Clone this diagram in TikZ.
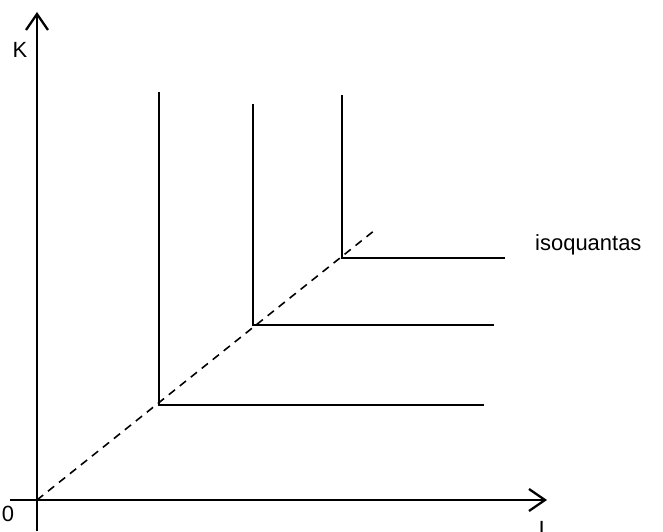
\documentclass[tikz,border=0pt]{standalone}
\usepackage{fontspec}
\setmainfont{Liberation Sans}
\usetikzlibrary{calc, positioning}
\usetikzlibrary{arrows.meta}

\begin{document}
\begin{tikzpicture}[x=1cm,y=1cm,font=\fontsize{12.5}{14}\selectfont]
\tikzset{axis/.style={line width=1.3pt,-{Straight Barb[length=3.2mm,width=4.4mm,line width=1.3pt]}},
  isoq/.style={line width=1.3pt},
  ray/.style={line width=0.9pt,dash pattern=on 4.5pt off 3.5pt}}
\useasboundingbox (-0.74,-0.62) rectangle (12.52,10);
\coordinate (O) at (0,0);
\coordinate (Ybot) at (0,-0.62);
\coordinate (Ytop) at (0,9.76);
\coordinate (Xleft) at (-0.54,0);
\coordinate (Xright) at (10.2,0);
\coordinate (A) at (2.44,1.9);
\coordinate (ATop) at (2.44,8.16);
\coordinate (ARight) at (8.94,1.9);
\coordinate (B) at (4.32,3.5);
\coordinate (BTop) at (4.32,7.92);
\coordinate (BRight) at (9.14,3.5);
\coordinate (C) at (6.1,4.84);
\coordinate (CTop) at (6.1,8.1);
\coordinate (CRight) at (9.36,4.84);
\coordinate (RayEnd) at (6.76,5.4);

\draw[axis] (Ybot) -- (Ytop);
\draw[axis] (Xleft) -- (Xright);
\draw[ray] (O) -- (RayEnd);
\draw[isoq] (ATop) -- (A) -- (ARight);
\draw[isoq] (BTop) -- (B) -- (BRight);
\draw[isoq] (CTop) -- (C) -- (CRight);

\node (labK) at (-0.34,9.0) {K};
\node (labO) at (-0.58,-0.27) {0};
\node[anchor=north] (labL) at (10.16,-0.3) {L};
\node[anchor=west] (labIso) at (9.84,5.1) {isoquantas};
\end{tikzpicture}
\end{document}
